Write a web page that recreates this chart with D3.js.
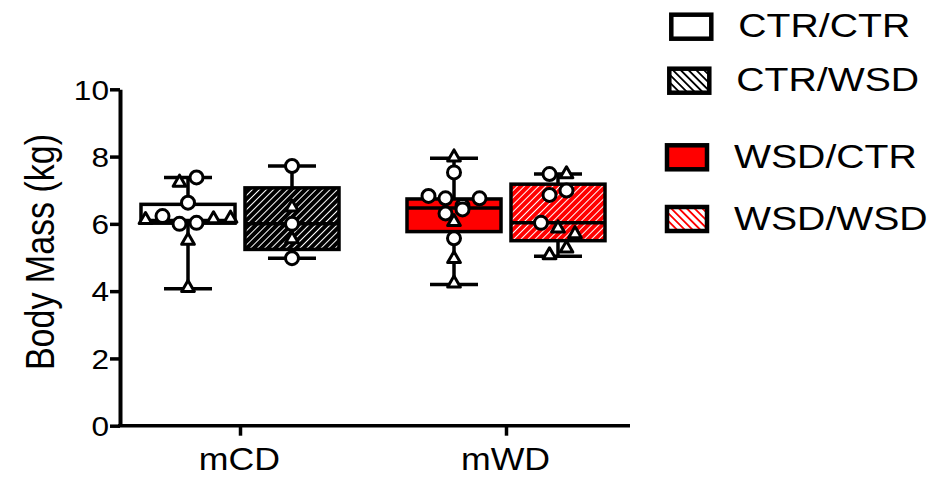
<!DOCTYPE html>
<html>
<head>
<meta charset="utf-8">
<script src="https://cdn.jsdelivr.net/npm/d3@7"></script>
<style>
  body { margin: 0; background: #fff; }
  svg { display: block; font-family: "Liberation Sans", Arial, sans-serif; }
</style>
</head>
<body>
<div id="chart"></div>
<script>
// categories
const diets = ["mCD", "mWD"];
const groups = ["CTR/CTR", "CTR/WSD", "WSD/CTR", "WSD/WSD"];
const groupDiet = ["mCD", "mCD", "mWD", "mWD"];
const groupPost = ["CTR", "WSD", "CTR", "WSD"];
const yTicks = [0, 2, 4, 6, 8, 10];

// box summaries (kg)
const boxMin = [4.07, 4.98, 4.2, 5.04];
const boxQ1 = [6.02, 5.24, 5.77, 5.5];
const boxMedian = [6.1, 6.0, 6.47, 6.03];
const boxQ3 = [6.58, 7.07, 6.74, 7.18];
const boxMax = [7.38, 7.72, 7.95, 7.48];

// individual animals (c = circle, t = triangle)
const ctrCtrMass = [7.2, 7.38, 6.63, 6.09, 6.23, 6.0, 6.03, 6.11, 6.13, 5.47, 4.07];
const ctrCtrMark = ["t", "c", "c", "t", "c", "c", "c", "t", "t", "t", "t"];
const ctrWsdMass = [7.72, 6.46, 6.0, 5.52, 4.98];
const ctrWsdMark = ["c", "t", "c", "t", "c"];
const wsdCtrMass = [7.95, 7.53, 6.83, 6.76, 6.31, 6.53, 6.43, 6.76, 6.03, 5.57, 4.93, 4.2];
const wsdCtrMark = ["t", "c", "c", "c", "c", "c", "c", "c", "t", "c", "t", "t"];
const wsdWsdMass = [7.48, 7.45, 6.86, 6.99, 6.03, 5.84, 5.67, 5.04, 5.24];
const wsdWsdMark = ["c", "t", "c", "c", "c", "t", "t", "t", "t"];

const groupMass = [ctrCtrMass, ctrWsdMass, wsdCtrMass, wsdWsdMass];
const groupMark = [ctrCtrMark, ctrWsdMark, wsdCtrMark, wsdWsdMark];

const red = "#ff0000";
const boxFill = ["#fff", "url(#hatchBlack)", red, "url(#hatchRed)"];
const legendFill = ["#fff", "url(#legBlack)", red, "url(#legRed)"];
const sx = 1.17; // glyphs in the figure are drawn a bit wide

const width = 947, height = 483;
const plotLeft = 120, plotRight = 630;

const svg = d3.select("#chart").append("svg")
  .attr("width", width)
  .attr("height", height);

// hatch patterns
const defs = svg.append("defs");
function hatch(id, bg, fg, size, lw, angle) {
  const p = defs.append("pattern")
    .attr("id", id)
    .attr("patternUnits", "userSpaceOnUse")
    .attr("width", size)
    .attr("height", size)
    .attr("patternTransform", "rotate(" + angle + ")");
  p.append("rect").attr("width", size).attr("height", size).attr("fill", bg);
  p.append("rect")
    .attr("x", (size - lw) / 2)
    .attr("width", lw)
    .attr("height", size)
    .attr("fill", fg)
    .attr("shape-rendering", "crispEdges");
}
hatch("hatchBlack", "#000", "#fff", 5, 1.4, 45);
hatch("hatchRed", red, "#fff", 5, 1.6, 45);
hatch("legBlack", "#fff", "#000", 5.5, 2.4, -45);
hatch("legRed", "#fff", red, 5.5, 2.2, -45);

const y = d3.scaleLinear().domain([0, 10]).range([425.7, 89.3]);
const x = d3.scalePoint().domain(diets).range([240, 506]);
const sub = d3.scaleBand().domain(["CTR", "WSD"]).range([-99, 99]).paddingInner(0.096);
const boxW = sub.bandwidth();
const capW = 48;
const lw = 3.5;

// y axis
const yAxis = svg.append("g")
  .attr("transform", "translate(" + plotLeft + ",0)")
  .call(d3.axisLeft(y).tickValues(yTicks).tickSize(10).tickSizeOuter(0));
yAxis.select(".domain").attr("stroke-width", 4);
yAxis.selectAll(".tick line").attr("stroke-width", lw);
yAxis.selectAll(".tick text")
  .attr("x", null)
  .attr("dy", "0.36em")
  .attr("font-size", 27)
  .attr("fill", "#000")
  .attr("transform", "translate(-11,0) scale(" + sx + ",1)");

// x axis
const xAxis = svg.append("g")
  .attr("transform", "translate(0," + y(0) + ")")
  .call(d3.axisBottom(x).tickSize(10).tickSizeOuter(0));
xAxis.select(".domain").attr("d", "M" + (plotLeft - 2) + ",0H" + plotRight).attr("stroke-width", lw);
xAxis.selectAll(".tick line").attr("stroke-width", lw);
xAxis.selectAll(".tick text")
  .attr("y", null)
  .attr("dy", null)
  .attr("font-size", 30.5)
  .attr("fill", "#000")
  .attr("transform", "translate(-1,44) scale(" + sx + ",1)");
svg.selectAll(".domain, .tick line").attr("stroke", "#000");

// y title
svg.append("text")
  .attr("transform", "translate(53.5,252) scale(" + sx + ",1) rotate(-90)")
  .attr("text-anchor", "middle")
  .attr("font-size", 34)
  .text("Body Mass (kg)");

// points laid out in rows of near-equal values
const step = 17;
function swarm(vals, thr) {
  const idx = d3.range(vals.length).sort((a, b) => vals[b] - vals[a]);
  const off = vals.map(() => 0);
  let row = [], start = null;
  const flush = () => {
    row.sort((a, b) => a - b);
    row.forEach((k, i) => { off[k] = (i - (row.length - 1) / 2) * step; });
  };
  idx.forEach(k => {
    if (start === null || start - vals[k] >= thr) {
      if (row.length) flush();
      row = [k];
      start = vals[k];
    } else {
      row.push(k);
    }
  });
  flush();
  return off;
}

const tri = d3.symbol(d3.symbolTriangle, 70)();

groups.forEach((g, i) => {
  const cx = x(groupDiet[i]) + sub(groupPost[i]) + boxW / 2;
  const gg = svg.append("g");

  // whiskers
  gg.append("line")
    .attr("x1", cx).attr("x2", cx)
    .attr("y1", y(boxMax[i])).attr("y2", y(boxMin[i]))
    .attr("stroke", "#000").attr("stroke-width", lw);
  [boxMin[i], boxMax[i]].forEach(v => {
    gg.append("line")
      .attr("x1", cx - capW / 2).attr("x2", cx + capW / 2)
      .attr("y1", y(v)).attr("y2", y(v))
      .attr("stroke", "#000").attr("stroke-width", lw);
  });

  // box
  gg.append("rect")
    .attr("x", cx - boxW / 2)
    .attr("y", y(boxQ3[i]))
    .attr("width", boxW)
    .attr("height", y(boxQ1[i]) - y(boxQ3[i]))
    .attr("fill", boxFill[i])
    .attr("stroke", "#000")
    .attr("stroke-width", lw);
  gg.append("line")
    .attr("x1", cx - boxW / 2).attr("x2", cx + boxW / 2)
    .attr("y1", y(boxMedian[i])).attr("y2", y(boxMedian[i]))
    .attr("stroke", "#000").attr("stroke-width", lw);

  // animals
  const vals = groupMass[i];
  const off = swarm(vals, 0.38);
  vals.forEach((v, k) => {
    if (groupMark[i][k] === "c") {
      gg.append("circle")
        .attr("cx", cx + off[k]).attr("cy", y(v)).attr("r", 6.5)
        .attr("fill", "#fff").attr("stroke", "#000").attr("stroke-width", 3);
    } else {
      gg.append("path")
        .attr("d", tri)
        .attr("transform", "translate(" + (cx + off[k]) + "," + (y(v) - 1) + ")")
        .attr("fill", "#fff").attr("stroke", "#000").attr("stroke-width", 3)
        .attr("stroke-linejoin", "round");
    }
  });
});

// legend
const legendY = [14.7, 68.7, 145.3, 207];
const legendX = [671.3, 669.3, 667, 667];
groups.forEach((g, i) => {
  svg.append("rect")
    .attr("x", legendX[i]).attr("y", legendY[i])
    .attr("width", 40).attr("height", 24)
    .attr("fill", legendFill[i])
    .attr("stroke", "#000")
    .attr("stroke-width", 4.5);
  svg.append("text")
    .attr("transform", "translate(" + (legendX[i] + 67) + "," + (legendY[i] + 22.5) + ") scale(" + sx + ",1)")
    .attr("font-size", 33.5)
    .text(g);
});
</script>
</body>
</html>
